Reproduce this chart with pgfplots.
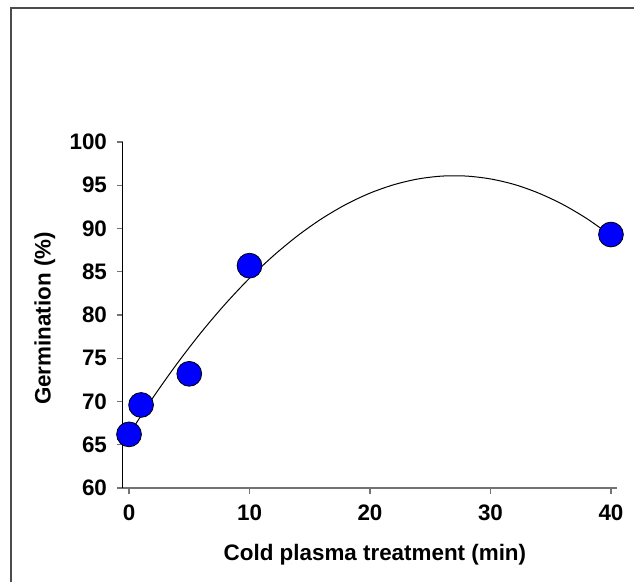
\documentclass[border=0pt]{standalone}
\usepackage{pgfplots}
\pgfplotsset{compat=1.18}
\usepackage{fontspec}
\setmainfont{Liberation Sans}

\begin{document}
\begin{tikzpicture}[x=1pt,y=1pt]
  \useasboundingbox (0,0) rectangle (317,291);
  % outer frame, cut by the page on the right and bottom
  \draw[line width=1pt, black!70] (5.5,287) rectangle (340,-20);
  \begin{axis}[
    at={(61.5pt,47pt)}, anchor=south west,
    scale only axis,
    width=247pt, height=173pt,
    xmin=-0.5, xmax=40.5,
    ymin=60, ymax=100,
    axis x line*=bottom,
    axis y line*=left,
    x axis line style={black!55, line width=0.9pt, -},
    y axis line style={black, line width=0.5pt, -},
    xtick={0,10,20,30,40},
    ytick={60,65,70,75,80,85,90,95,100},
    tick align=outside,
    major tick length=3pt,
    tick style={black!55, line width=0.6pt},
    ticklabel style={font=\fontsize{11.2}{13}\selectfont\bfseries},
    xticklabel style={yshift=-2pt},
    yticklabel style={xshift=-1.5pt},
    /pgf/number format/assume math mode=true,
    xlabel={Cold plasma treatment (min)},
    ylabel={Germination (\%)},
    label style={font=\fontsize{11.2}{13}\selectfont\bfseries},
    xlabel style={at={(axis description cs:0.51,0)}, anchor=center, yshift=-33.5pt},
    ylabel style={at={(axis description cs:-0.158,0.49)}, anchor=center},
    clip=false,
  ]
    % measured germination
    \addplot[only marks, mark=*, mark size=6.2pt,
      mark options={fill=blue, draw=black, line width=0.4pt}]
      coordinates {(0,66.2) (1,69.6) (5,73.2) (10,85.7) (40,89.3)};
    % quadratic fit
    \addplot[black, line width=0.5pt, smooth] coordinates {
      (0,66.20) (2,70.47) (4,74.40) (6,78.01) (8,81.29) (10,84.25)
      (12,86.87) (14,89.17) (16,91.14) (18,92.78) (20,94.09) (22,95.07)
      (24,95.73) (26,96.06) (28,96.06) (30,95.73) (32,95.08) (34,94.09)
      (36,92.78) (38,91.14) (40,89.17)};
  \end{axis}
\end{tikzpicture}
\end{document}
